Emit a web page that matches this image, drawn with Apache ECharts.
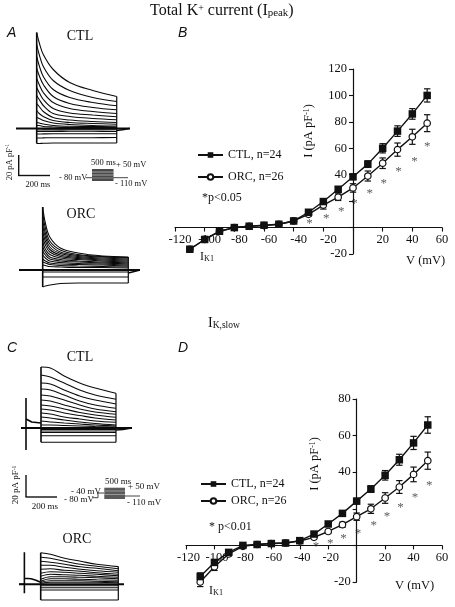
<!DOCTYPE html>
<html><head><meta charset="utf-8">
<style>html,body{margin:0;padding:0;background:#fff}#c{width:455px;height:607px}</style>
<script src="https://cdn.jsdelivr.net/npm/echarts@6/dist/echarts.min.js"></script>
</head><body><div id="c"></div>
<script>
// ---------- I-V data ----------
const voltages = [-110,-100,-90,-80,-70,-60,-50,-40,-30,-20,-10,0,10,20,30,40,50];
const peakCTL = [-16.4,-9,-2.8,0,1,1.8,2.5,5,11.6,19.7,29,38.4,48,60,73,86,100];
const peakCTLerr = [1.5,1,.8,.5,.5,.5,.5,1,1.5,2,2,2,2.5,3.5,4,4,5];
const peakORC = [-16.4,-9,-2.8,0,1,1.5,2.5,5,10,17,23,30,39,48.7,59,68.7,79];
const peakORCerr = [1.5,1,.8,.5,.5,.5,.5,1,1.5,3,2.5,3.2,3.8,4,5,5.7,6.4];
const peakStarsX = [-29.3,-18,-7.9,1,11.3,20.7,30.6,41.4,50];
const peakStarsY = [4.3,8,13.4,19.4,27,34.6,44,51.8,62.9];
const slowCTL = [-17,-9.3,-3.8,0,.5,1,1.3,2.6,6.2,11.7,17.5,24.2,30.8,38.3,46.8,56,65.8];
const slowCTLerr = [2,1.5,1,.5,.5,.5,.5,.8,1,1.2,1.2,1.5,1.8,2.6,3,3.6,4.5];
const slowORC = [-20,-11.7,-4.7,-.5,.5,1,1.3,2.4,4.4,7.6,11.3,15.7,20,25.9,31.9,38.8,46.3];
const slowORCerr = [2.5,2,1,.5,.5,.5,.5,.6,.8,1,1.4,2,2.5,2.9,3.5,4,4.7];
const slowStarsX = [-28.6,-18.5,-9.2,1,12,21.4,30.8,41,51];
const slowStarsY = [.7,2.2,4.9,7.7,11.7,16.6,22,27,33.9];
const xTickLabels = [-120,-100,-80,-60,-40,-20,20,40,60];
const peakYLabels = [120,100,80,60,40,-20];
const slowYLabels = [80,60,40,-20];

// ---------- current traces (pA/pF at the listed times in ms) ----------
const timesPeak = [0,15,40,100,200,340,485];
const tracesPeakCTL = [
 [96,86,74,59,46,38,32],[84,74,62,48,38,31,27],[72,63,52,39,31,26,22.7],[60,53,44,32,25,21,18.7],
 [50,44,36,26,20,17,15],[41,36,29,20,15.5,13.5,11.7],[33,29,23,15,12,10,8.7],[25,22,17,11,8.5,7,6],
 [18,15,12,8,6,5,4.3],[11,10,8,5.5,4,3,2.5],[6,5.5,4.5,3,2.2,2,1.5],[3,3,2,1.5,1,1,1],
 [-1.5,-1.5,-1.4,-1.4,-1.3,-1.3,-1.3],[-3,-3,-3,-3,-2.8,-2.8,-3],[-5.5,-5.5,-5.4,-5.3,-5.3,-5.3,-5.2],
 [-9.5,-9.5,-9.4,-9.2,-9.2,-9.2,-9],[-15,-15,-14.8,-14.5,-14.5,-14.5,-14.5]];
const tracesPeakORC = [
 [63,47,33,22,17,14,13],[57,42,29,20,15.5,13.5,12.5],[50,37,26,18,14.5,13,12],[44,33,23,16.5,13.5,12,11],
 [38,29,20.5,15,12.5,11,10],[33,25,18,13.5,11.5,10,9],[28,21,15.5,12,10.5,9,8],[23,18,13,10.5,9,8,7],
 [19,15,11,9,8,7,6],[15,12,9,7.5,6.5,6,5],[11,9,7,6,5.5,5,4],[8,7,5.5,4.5,4,3.5,3],[5,4.5,3.5,3,2.5,2.5,2],
 [-2,-2,-2,-2,-2,-2,-2],[-7,-7,-7,-7,-7,-7,-7],[-17,-16,-15,-13.5,-13,-13,-13]];
const timesSlow = [0,60,150,250,350,485];
const tracesSlowCTL = [
 [61,60,52,45,40,34.7],[53,51,45,38,33,28.7],[45,44,38,32,28,24],[39,38,33,27,23,19.7],
 [33,32,28,23,19,16.3],[28,27,23,19,16,13.7],[23,22,19,15.5,13,10.7],[19,18,15,12.5,10,8],
 [15,14,11,9,7,5.7],[11,10,8,6,4.5,3],[7,6,5,4,3,2],[3,3,2.5,2,1.5,1],
 [-1.5,-1.5,-1.5,-1.5,-1.5,-1.5],[-3,-3,-3,-3,-3,-3],[-4.5,-4.5,-4.5,-4.5,-4.5,-4.5],
 [-7.7,-7.7,-7.7,-7.7,-7.7,-7.7],[-14.3,-14.3,-14.3,-14.3,-14.3,-14.3]];
const tracesSlowORC = [
 [31.6,30,26,23,20,17.7],[27,26,23,20,18,15.5],[23,22,20,17.5,16,13.5],[19,19,17,15,13.5,12],
 [15,15.5,14,13,11.5,10],[11,12.5,12,11,10,8.5],[8,10,9.5,9,8,7],[5,7.5,7.5,7,6.5,5.5],
 [3,5.5,5.5,5,4.5,4],[2,3.5,3.5,3.5,3,2.5],[1,2,2,2,2,1.5],
 [-1.5,-1.5,-1.5,-1.5,-1.5,-1.5],[-3.5,-3.5,-3.5,-3.5,-3.5,-3.5],[-5.7,-5.7,-5.7,-5.7,-5.7,-5.7],
 [-15.7,-15.7,-15.7,-15.7,-15.7,-15.7]];
const prepulseSlowCTL = [[-121,0],[-97,0],[-97,30],[-97,-22],[-97,9],[-85,7],[-60,6],[-30,5.5],[0,5]];
const prepulseSlowORC = [[-135,0],[-102,0],[-102,32],[-102,-9],[-102,6],[-60,5.5],[-30,4],[0,2]];
const tailPeakCTL = [[485,-2],[530,-1],[560,0]];
const tailPeakORC = [[485,-3],[530,-1],[550,0]];
const tailSlowCTL = [[485,-2],[530,-1.5],[585,0]];

const serif = '"Liberation Serif","Times New Roman",serif';
const nameCTL = 'CTL, n=24', nameORC = 'ORC, n=26';
const grid = [], xAxis = [], yAxis = [], series = [];

// trace panel: scales set so that 1 pA/pF = 1 px
function tracePanel(o, times, traces, pre, tail) {
  const g = grid.length;
  grid.push({left:o.left, top:o.top, width:o.right-o.left, height:o.bottom-o.top});
  xAxis.push({gridIndex:g, type:'value', show:false, min:(o.left-o.x0)/o.ppm, max:(o.right-o.x0)/o.ppm});
  yAxis.push({gridIndex:g, type:'value', show:false, min:o.y0-o.bottom, max:o.y0-o.top});
  const line = (data, w) => series.push({type:'line', xAxisIndex:g, yAxisIndex:g, data, symbol:'none', silent:true,
    clip:false, lineStyle:{color:'#0a0a0a', width:w}, z:3});
  traces.forEach(t => series.push({type:'line', xAxisIndex:g, yAxisIndex:g, smooth:.35, symbol:'none', silent:true,
    data:t.map((v,i)=>[times[i],v]), lineStyle:{color:'#0a0a0a', width:1.1}, z:3}));
  const ends = i => traces.map(t=>t[i]);
  const last = times.length-1;
  line([[times[0],Math.min(...ends(0))],[times[0],Math.max(...ends(0))]], 1.6);
  line([[times[last],Math.min(...ends(last))],[times[last],Math.max(...ends(last))]], 1.2);
  line([[(o.baseL-o.x0)/o.ppm,0],[(o.baseR-o.x0)/o.ppm,0]], o.baseW);
  if (pre) line(pre, 1.6);
  if (tail) line(tail, 1.6);
}
tracePanel({left:16,right:132,top:28,bottom:150,x0:36.7,y0:128.5,ppm:.165,baseL:16,baseR:130,baseW:2}, timesPeak, tracesPeakCTL, null, tailPeakCTL);
tracePanel({left:19,right:141,top:200,bottom:295,x0:42.7,y0:270,ppm:.1765,baseL:19,baseR:140,baseW:2.2}, timesPeak, tracesPeakORC, null, tailPeakORC);
tracePanel({left:18,right:133,top:360,bottom:455,x0:41,y0:428,ppm:.1546,baseL:21,baseR:132,baseW:2}, timesSlow, tracesSlowCTL, prepulseSlowCTL, tailSlowCTL);
tracePanel({left:17,right:126,top:545,bottom:606,x0:40.7,y0:584.3,ppm:.16,baseL:19,baseR:124,baseW:2}, timesSlow, tracesSlowORC, prepulseSlowORC, null);

// I-V panel: both axes are pushed inwards to cross at zero, labels follow them
function ivPanel(o, yLabels, ctl, ctlErr, orc, orcErr, sx, sy) {
  const g = grid.length;
  grid.push({left:o.left, top:o.top, width:o.width, height:o.height});
  const lineS = {show:true, onZero:false, lineStyle:{color:'#111', width:1.2}};
  const tick = {show:true, length:4, lineStyle:{color:'#111', width:1.1}};
  const xOff = -o.height * (0 - o.ymin) / (o.ymax - o.ymin);
  const yOff = -o.width * 120 / 180;
  xAxis.push({gridIndex:g, type:'value', position:'bottom', offset:xOff, min:-120, max:60, interval:20, splitLine:{show:false},
    axisLine:lineS, axisTick:tick,
    axisLabel:{margin:6, color:'#111', fontFamily:serif, fontSize:12.5, hideOverlap:false, showMinLabel:true, showMaxLabel:true,
      formatter:v => !xTickLabels.includes(v) ? '' : (v<0 ? '{n|'+v+'}' : '{p|'+v+'}'),
      rich:{n:{padding:[0,0,0,o.negShift], fontFamily:serif, fontSize:12.5, color:'#111'}, p:{fontFamily:serif, fontSize:12.5, color:'#111'}}}});
  yAxis.push({gridIndex:g, type:'value', position:'left', offset:yOff, min:o.ymin, max:o.ymax, interval:20, splitLine:{show:false},
    axisLine:lineS, axisTick:tick,
    axisLabel:{margin:6, color:'#111', fontFamily:serif, fontSize:12.5, showMinLabel:true, showMaxLabel:true,
      formatter:v => yLabels.includes(v) ? String(v) : ''}});
  const errSeries = (vals, errs) => ({type:'custom', xAxisIndex:g, yAxisIndex:g, silent:true, z:4, clip:false,
    encode:{x:0,y:[1,2]}, data:voltages.map((x,i)=>[x, vals[i]-errs[i], vals[i]+errs[i]]),
    renderItem:(p,api)=>{
      const lo = api.coord([api.value(0),api.value(1)]), hi = api.coord([api.value(0),api.value(2)]);
      const st = {stroke:'#111', lineWidth:1.2, fill:null}, c = 3.2, x = lo[0];
      return {type:'group', children:[
        {type:'line', shape:{x1:x,y1:lo[1],x2:x,y2:hi[1]}, style:st},
        {type:'line', shape:{x1:x-c,y1:lo[1],x2:x+c,y2:lo[1]}, style:st},
        {type:'line', shape:{x1:x-c,y1:hi[1],x2:x+c,y2:hi[1]}, style:st}]};
    }});
  series.push(errSeries(orc, orcErr), errSeries(ctl, ctlErr));
  series.push({name:nameORC, type:'line', xAxisIndex:g, yAxisIndex:g, z:5, silent:true, symbol:'circle', symbolSize:6.5,
    data:voltages.map((x,i)=>[x,orc[i]]), lineStyle:{color:'#111', width:1.4},
    itemStyle:{color:'#fff', borderColor:'#111', borderWidth:1.2}});
  series.push({name:nameCTL, type:'line', xAxisIndex:g, yAxisIndex:g, z:6, silent:true, symbol:'rect', symbolSize:7.5,
    data:voltages.map((x,i)=>[x,ctl[i]]), lineStyle:{color:'#111', width:1.4}, itemStyle:{color:'#111'}});
  series.push({type:'scatter', xAxisIndex:g, yAxisIndex:g, z:7, silent:true, symbolSize:1, itemStyle:{color:'transparent'},
    data:sx.map((x,i)=>[x,sy[i]]),
    label:{show:true, position:'inside', offset:[0,2], formatter:'*', color:'#333', fontFamily:serif, fontSize:13}});
}
ivPanel({left:175,top:69,width:267,height:185,ymin:-20,ymax:120,negShift:10}, peakYLabels, peakCTL, peakCTLerr, peakORC, peakORCerr, peakStarsX, peakStarsY);
ivPanel({left:186,top:399,width:256,height:183,ymin:-20,ymax:80,negShift:5}, slowYLabels, slowCTL, slowCTLerr, slowORC, slowORCerr, slowStarsX, slowStarsY);

// ---------- text & decoration ----------
const T = (x,y,text,size,opt={}) => ({type:'text', x, y, z:20, silent:true, rotation:opt.rot||0,
  style:{text, fontFamily:opt.font||serif, fontSize:size, fontStyle:opt.style||'normal', fill:'#111',
    align:opt.align||'left', verticalAlign:'middle', rich:opt.rich}});
const L = (x1,y1,x2,y2,w,c) => ({type:'line', z:20, silent:true, shape:{x1,y1,x2,y2}, style:{stroke:c||'#111', lineWidth:w||1.4}});
const R = (x,y,w,h,c) => ({type:'rect', z:20, silent:true, shape:{x,y,width:w,height:h}, style:{fill:c}});
const sans = '"Liberation Sans",Arial,sans-serif';
const richLab = s => ({n:{fontFamily:serif,fontSize:s,fill:'#111',color:'#111'},
  up:{fontFamily:serif,fontSize:s*.62,color:'#111',verticalAlign:'top'},
  dn:{fontFamily:serif,fontSize:s*.68,color:'#111',verticalAlign:'bottom'}});
const rot = Math.PI/2;
const graphicEls = [
  T(150,11,'{n|Total K}{up|+}{n| current (I}{dn|peak}{n|)}',16,{rich:richLab(16)}),
  T(208,323,'{n|I}{dn|K,slow}',14,{rich:richLab(14)}),
  T(7,33,'A',14,{font:sans,style:'italic'}), T(178,33,'B',14,{font:sans,style:'italic'}),
  T(7,348,'C',14,{font:sans,style:'italic'}), T(178,348,'D',14,{font:sans,style:'italic'}),
  T(80,36,'CTL',14,{align:'center'}), T(81,214,'ORC',14,{align:'center'}),
  T(80,357,'CTL',14,{align:'center'}), T(77,539,'ORC',14,{align:'center'}),
  T(309,131,'{n|I (pA pF}{up|-1}{n|)}',12.5,{rot,align:'center',rich:richLab(12.5)}),
  T(315,464,'{n|I (pA pF}{up|-1}{n|)}',12.5,{rot,align:'center',rich:richLab(12.5)}),
  T(406,261,'V (mV)',12.5), T(395,586,'V (mV)',12.5),
  T(200,257,'{n|I}{dn|K1}',12,{rich:richLab(12)}), T(209,591,'{n|I}{dn|K1}',12,{rich:richLab(12)}),
  T(202,198,'*p<0.05',12), T(209,527,'* p<0.01',12),
  // scale bar + protocol A
  L(18.7,155,18.7,175.5), L(18,175.5,50,175.5),
  T(10,162,'{n|20 pA pF}{up|-1}',8.5,{rot,align:'center',rich:richLab(8.5)}),
  T(38,185,'200 ms',8.5,{align:'center'}),
  L(86,177.7,92,177.7,1,'#444'), L(113,177.7,128,177.7,1,'#444'),
  R(92,169,21.5,12,'#4a4a4a'), L(92,172,113.5,172,.8,'#bbb'), L(92,175,113.5,175,.8,'#bbb'), L(92,178,113.5,178,.8,'#999'),
  T(91,163,'500 ms',8.5), T(116,165,'+ 50 mV',8.5), T(59,178,'- 80 mV',8.5), T(115,184,'- 110 mV',8.5),
  // scale bar + protocol C
  L(26,475,26,497), L(25.5,497,57,497),
  T(16,485,'{n|20 pA pF}{up|-1}',9,{rot,align:'center',rich:richLab(9)}),
  T(45,507,'200 ms',9,{align:'center'}),
  L(92.7,497.7,98,497.7,1,'#444'), L(98,497.7,98,493,1,'#444'), L(98,493,104,493,1,'#444'), L(125,496,140,496,1,'#444'),
  R(104.3,487.7,20.7,11.3,'#5a5a5a'), L(104.3,491,125,491,.8,'#aaa'), L(104.3,494.5,125,494.5,.8,'#aaa'),
  T(105,481.7,'500 ms',9), T(128,486.7,'+ 50 mV',9), T(71,492,'- 40 mV',9), T(64,500,'- 80 mV',9), T(127,503,'- 110 mV',9)
];

const legendBase = {orient:'vertical', itemWidth:25, itemHeight:7, selectedMode:false, data:[nameCTL,nameORC],
  textStyle:{fontFamily:serif, fontSize:12, color:'#111'}, padding:0};
const chart = echarts.init(document.getElementById('c'), null, {renderer:'canvas'});
chart.setOption({
  animation:false, backgroundColor:'#fff',
  legend:[Object.assign({left:197, top:149, itemGap:10}, legendBase), Object.assign({left:200, top:478, itemGap:5}, legendBase)],
  grid, xAxis, yAxis, series, graphic:{elements:graphicEls}
});
</script></body></html>
